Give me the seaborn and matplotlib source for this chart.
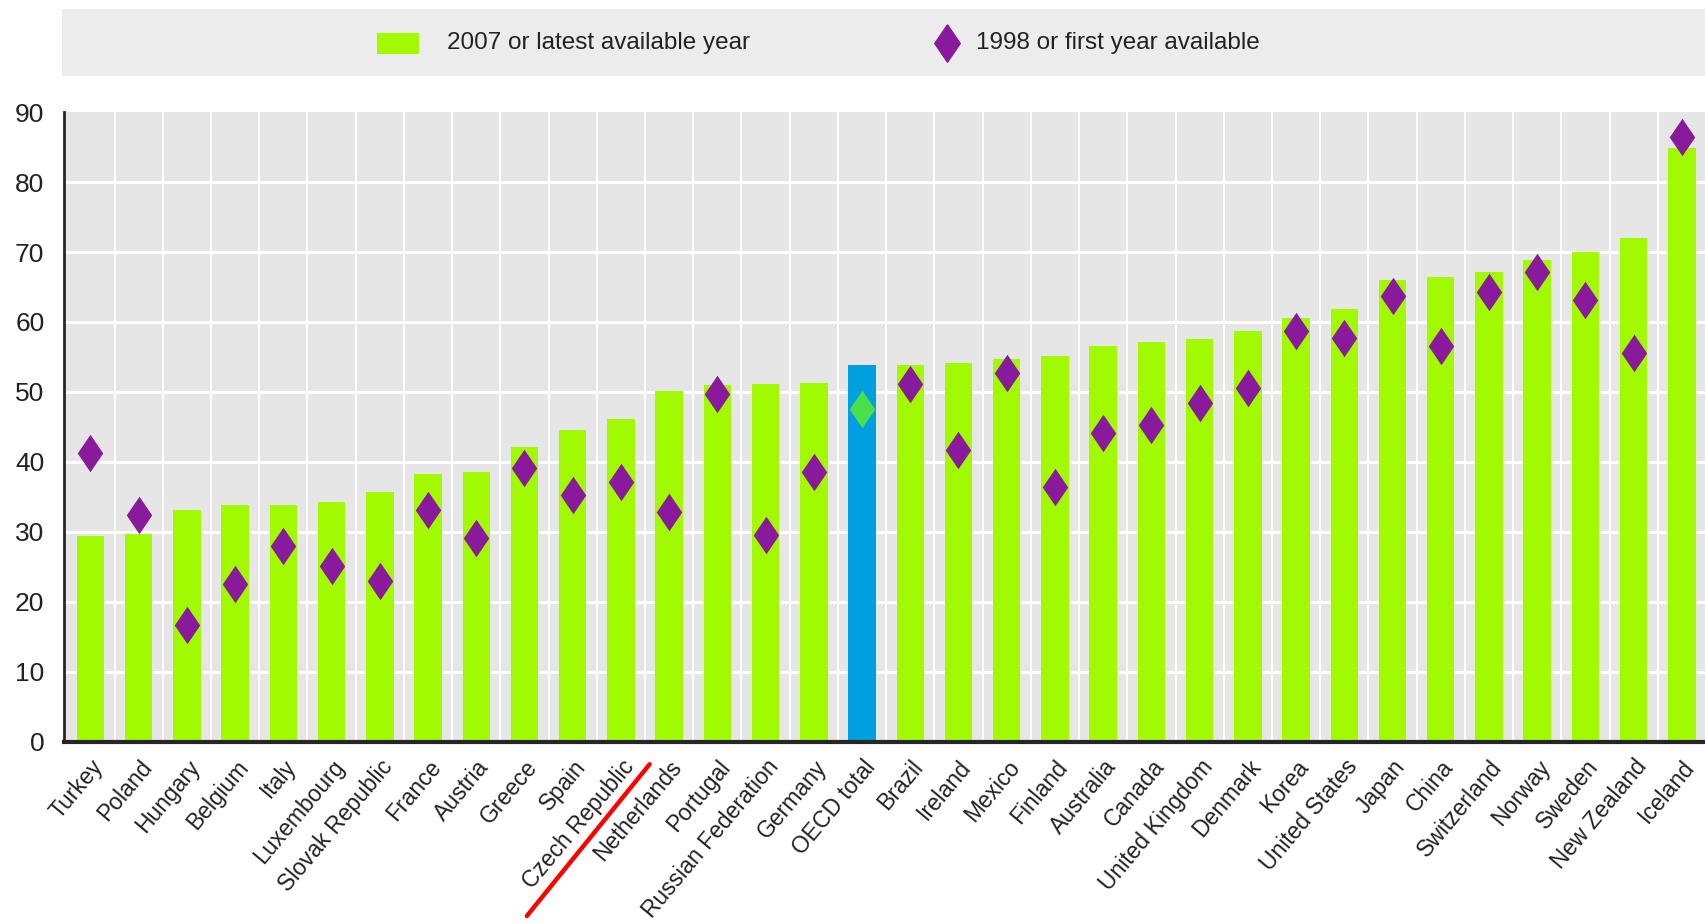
import matplotlib
matplotlib.use("Agg")
import matplotlib.pyplot as plt
from matplotlib.patches import Rectangle
from matplotlib.lines import Line2D
import seaborn as sns
import pandas as pd

countries = ["Turkey", "Poland", "Hungary", "Belgium", "Italy", "Luxembourg",
             "Slovak Republic", "France", "Austria", "Greece", "Spain",
             "Czech Republic", "Netherlands", "Portugal", "Russian Federation",
             "Germany", "OECD total", "Brazil", "Ireland", "Mexico", "Finland",
             "Australia", "Canada", "United Kingdom", "Denmark", "Korea",
             "United States", "Japan", "China", "Switzerland", "Norway",
             "Sweden", "New Zealand", "Iceland"]
latest = [29.4, 29.7, 33.1, 33.9, 33.9, 34.3, 35.7, 38.3, 38.6, 42.1, 44.5,
          46.1, 50.1, 51.0, 51.1, 51.3, 53.8, 53.8, 54.2, 54.7, 55.1, 56.6,
          57.1, 57.5, 58.7, 60.6, 61.9, 66.0, 66.4, 67.1, 68.9, 70.0, 72.0,
          84.9]
first = [41.2, 32.4, 16.7, 22.6, 28.0, 25.1, 22.9, 33.1, 29.1, 39.1, 35.2,
         37.1, 32.8, 49.7, 29.5, 38.5, 47.5, 51.1, 41.7, 52.7, 36.4, 44.1,
         45.3, 48.4, 50.5, 58.7, 57.7, 63.7, 56.6, 64.3, 67.1, 63.1, 55.6,
         86.5]

GREEN = "#a2fa00"
BLUE = "#00a0e0"
PURPLE = "#8a1a9c"
LIGHT = "#4be04b"
DIAMOND = [(0, 1), (0.68, 0), (0, -1), (-0.68, 0), (0, 1)]

df = pd.DataFrame({"country": countries, "latest": latest, "first": first})
bar_pal = {c: (BLUE if c == "OECD total" else GREEN) for c in countries}
dot_pal = {c: (LIGHT if c == "OECD total" else PURPLE) for c in countries}

sns.set_style("white")
plt.rcParams["font.family"] = ["Liberation Sans Narrow", "Liberation Sans", "DejaVu Sans"]

fig = plt.figure(figsize=(17.05, 9.23), dpi=100)
ax = fig.add_axes([0.0375, 0.1965, 0.9625, 0.682])
ax.set_facecolor("#e6e6e6")

sns.barplot(data=df, x="country", y="latest", hue="country", palette=bar_pal,
            width=0.57, legend=False, saturation=1, linewidth=0, ax=ax, zorder=3)
sns.stripplot(data=df, x="country", y="first", hue="country", palette=dot_pal,
              jitter=False, marker=DIAMOND, size=27, linewidth=0, legend=False,
              ax=ax, zorder=4)

n = len(countries)
ax.set_xlim(-0.55, n - 0.52)
ax.set_ylim(0, 90)
ax.set_yticks(range(0, 91, 10))
ax.set_xlabel("")
ax.set_ylabel("")

# white grid: horizontal every 10, vertical between categories
for v in range(10, 90, 10):
    ax.axhline(v, color="white", lw=2.2, zorder=1)
for b in range(n - 1):
    ax.axvline(b + 0.5, color="white", lw=1.4, zorder=1)

ax.set_xticks([b + 0.5 for b in range(n - 1)], minor=True)
ax.tick_params(axis="x", which="major", length=0, pad=10)
ax.tick_params(axis="x", which="minor", direction="in", length=8, width=1.2, color="#333333")
ax.tick_params(axis="y", direction="in", length=6, width=1.2, pad=14,
               labelsize=19, labelcolor="#222222")
ax.set_xticks(range(n))
ax.set_xticklabels(countries, rotation=50, ha="right", rotation_mode="anchor",
                   fontsize=16.5, color="#222222")

for s in ["top", "right"]:
    ax.spines[s].set_visible(False)
ax.spines["bottom"].set_linewidth(3)
ax.spines["left"].set_linewidth(2)
ax.spines["bottom"].set_zorder(5)

# legend band
fig.patches.append(Rectangle((0.0364, 0.9177), 0.9636, 0.0726, transform=fig.transFigure,
                             facecolor="#ececec", edgecolor="none", zorder=0))
fig.patches.append(Rectangle((0.221, 0.9415), 0.0246, 0.0228, transform=fig.transFigure,
                             facecolor=GREEN, edgecolor="none", zorder=1))
fig.text(0.262, 0.953, "2007 or latest available year", fontsize=17.5,
         va="center", ha="left", color="#222222")
fig.lines.append(Line2D([0.5555], [0.953], transform=fig.transFigure, marker=DIAMOND,
                        markersize=27, color=PURPLE, linestyle="none"))
fig.text(0.5725, 0.953, "1998 or first year available", fontsize=17.5,
         va="center", ha="left", color="#222222")

# red stroke over the Czech Republic label
fig.lines.append(Line2D([0.309, 0.381], [0.0076, 0.172], transform=fig.transFigure,
                        color="#ff0000", lw=3.2))

fig.savefig("out.png", dpi=100)
